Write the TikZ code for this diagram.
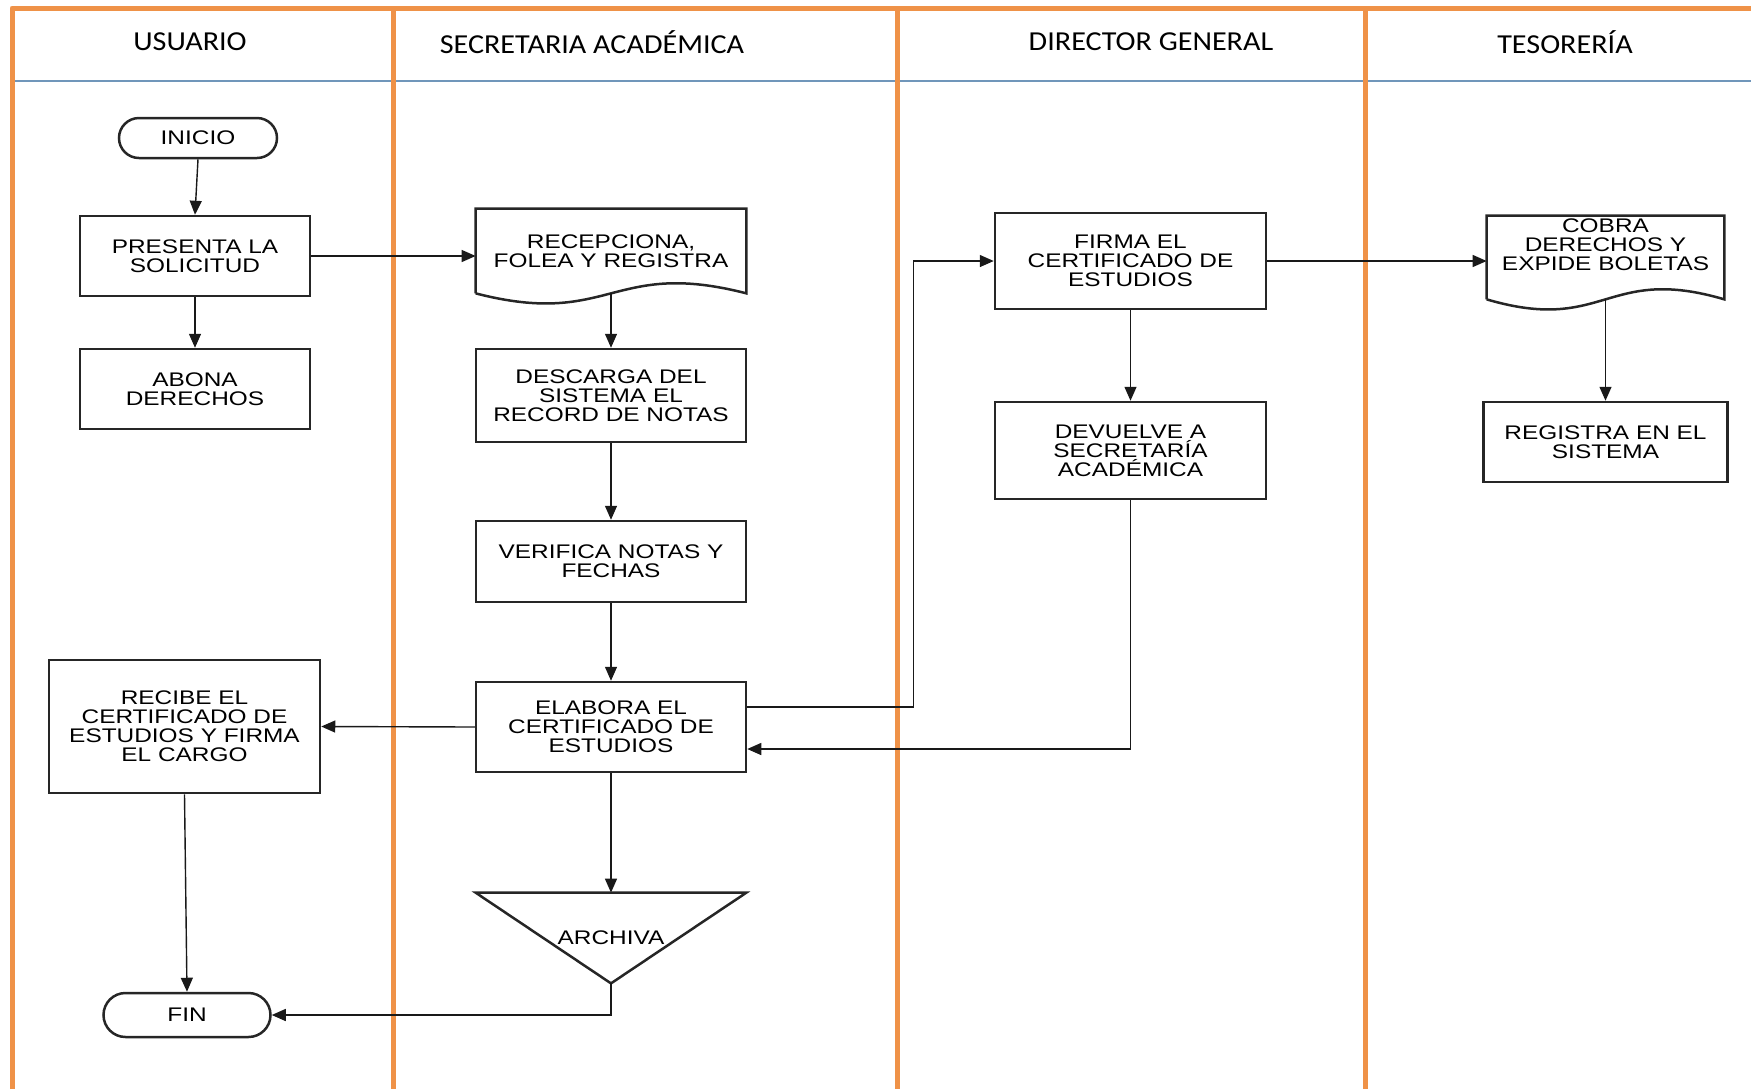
\documentclass[tikz,border=0pt]{standalone}
\usepackage{fontspec}
\newfontfamily\laneFont[FakeStretch=1.1]{Carlito}
\newfontfamily\boxFont[FakeStretch=1.24]{Liberation Sans}
\usetikzlibrary{arrows.meta,shapes}
\definecolor{naranja}{RGB}{239,146,72}
\definecolor{azul}{RGB}{112,150,186}

\begin{document}
\begin{tikzpicture}[x=0.2mm,y=-0.2mm,
  carril/.style={draw=naranja, line width=1mm, line join=round},
  cabecera/.style={draw=azul, line width=0.35mm},
  titulo/.style={font=\laneFont\fontsize{15.6}{18}\selectfont},
  texto/.style={align=center, inner sep=0pt, font=\boxFont\fontsize{11.2}{10.8}\selectfont},
  caja/.style={draw=black!85, line width=0.5mm},
  proceso/.style={texto, caja},
  terminal/.style={proceso, rounded rectangle},
  flecha/.style={draw=black!90, line width=0.28mm, -{Triangle[length=2.8mm,width=2.4mm]}}]

\useasboundingbox (0,0) rectangle (1751,1089);

\newcommand{\drawDoc}[1]{%
	\draw[caja] (#1.south west) -- (#1.north west) -- (#1.north east) -- (#1.south east)
	.. controls ([yshift=7mm]#1.south) and ([yshift=-7mm]#1.south) .. (#1.south west);
}

% carriles
\draw[cabecera] (12,81) -- (1751,81);
\draw[carril] (12,1089) -- (12,8) -- (1751,8);
\foreach \x in {393,897,1365}
	\draw[carril] (\x,8) -- (\x,1089);

\node[titulo] (usuario) at (190,42) {USUARIO};
\node[titulo] (secretaria) at (592,42) {SECRETARIA ACADÉMICA};
\node[titulo] (director) at (1151,42) {DIRECTOR GENERAL};
\node[titulo] (tesoreria) at (1565,42) {TESORERÍA};

% usuario
\node[terminal, minimum width=31.6mm, minimum height=8mm] (inicio) at (198,138) {INICIO};
\node[proceso, minimum width=46mm, minimum height=16mm] (presenta) at (195,256) {PRESENTA LA\\SOLICITUD};
\node[proceso, minimum width=46mm, minimum height=16mm] (abona) at (195,389) {ABONA\\DERECHOS};
\node[proceso, minimum width=54.2mm, minimum height=26.6mm] (recibe) at (184.5,726.5) {RECIBE EL\\CERTIFICADO DE\\ESTUDIOS Y FIRMA\\EL CARGO};
\node[terminal, minimum width=33.4mm, minimum height=8.8mm] (fin) at (187,1015) {FIN};

% secretaria academica
\node[texto, minimum width=54mm, minimum height=16.8mm] (recepciona) at (611,251) {RECEPCIONA,\\FOLEA Y REGISTRA};
\drawDoc{recepciona}
\node[proceso, minimum width=54mm, minimum height=18.6mm] (descarga) at (611,395.5) {DESCARGA DEL\\SISTEMA EL\\RECORD DE NOTAS};
\node[proceso, minimum width=54mm, minimum height=16.2mm] (verifica) at (611,561.5) {VERIFICA NOTAS Y\\FECHAS};
\node[proceso, minimum width=54mm, minimum height=18mm] (elabora) at (611,727) {ELABORA EL\\CERTIFICADO DE\\ESTUDIOS};
\node[texto, minimum width=54mm, minimum height=18mm] (archiva) at (611,938) {ARCHIVA};
\draw[caja] (archiva.north west) -- (archiva.north east) -- (archiva.south) -- cycle;

% director general
\node[proceso, minimum width=54.2mm, minimum height=19.2mm] (firma) at (1130.5,261) {FIRMA EL\\CERTIFICADO DE\\ESTUDIOS};
\node[proceso, minimum width=54.2mm, minimum height=19.4mm] (devuelve) at (1130.5,450.5) {DEVUELVE A\\SECRETARÍA\\ACADÉMICA};

% tesoreria
\node[minimum width=47.4mm, minimum height=16.6mm, inner sep=0pt,
	label={[texto, yshift=2.5mm]center:{COBRA\\DERECHOS Y\\EXPIDE BOLETAS}}] (cobra) at (1605.5,257.5) {};
\drawDoc{cobra}
\node[proceso, minimum width=48.8mm, minimum height=16mm] (registra) at (1605.5,442) {REGISTRA EN EL\\SISTEMA};

% flujo
\draw[flecha] (inicio.south) -- (presenta.north);
\draw[flecha] (presenta.south) -- (abona.north);
\draw[flecha] (presenta.east) -- (presenta.east -| recepciona.west);
\draw[flecha] (recepciona.south) -- (descarga.north);
\draw[flecha] (descarga.south) -- (verifica.north);
\draw[flecha] (verifica.south) -- (elabora.north);
\draw[flecha] (elabora.west) -- (recibe.east);
\draw[flecha] ([yshift=4mm]elabora.east) -- ++(166,0) |- (firma.west);
\draw[flecha] (firma.south) -- (devuelve.north);
\draw[flecha] (devuelve.south) |- ([yshift=-4.4mm]elabora.east);
\draw[flecha] (firma.east) -- (firma.east -| cobra.west);
\draw[flecha] (cobra.south) -- (registra.north);
\draw[flecha] (elabora.south) -- (archiva.north);
\draw[flecha] (archiva.south) |- (fin.east);
\draw[flecha] (recibe.south) -- (fin.north);
\end{tikzpicture}
\end{document}
